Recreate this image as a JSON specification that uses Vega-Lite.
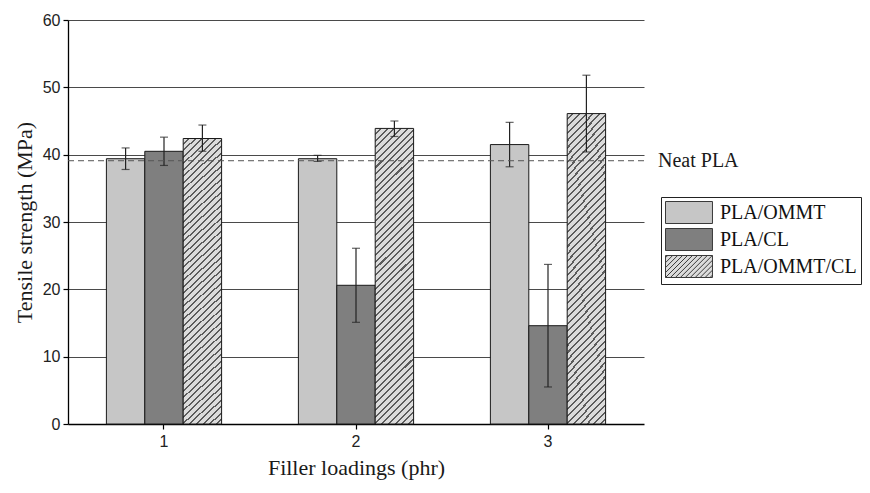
{
  "$schema": "https://vega.github.io/schema/vega-lite/v6.json",
  "width": 576,
  "height": 404,
  "autosize": {"type": "none"},
  "padding": {"left": 68, "top": 20, "right": 226, "bottom": 69},
  "background": "white",
  "config": {
    "view": {"stroke": null},
    "axis": {"labelFont": "Liberation Sans", "labelFontSize": 16, "labelColor": "#222", "titleFont": "Liberation Serif", "titleFontSize": 22, "titleFontWeight": "normal", "titleColor": "#1a1a1a", "domainColor": "#000", "domainWidth": 1.3, "tickColor": "#000", "tickWidth": 1.2}
  },
  "data": {
    "values": [
      {"loading": 1, "series": "PLA/OMMT", "value": 39.4, "lo": 37.8, "hi": 41.0},
      {"loading": 1, "series": "PLA/CL", "value": 40.5, "lo": 38.4, "hi": 42.6},
      {"loading": 1, "series": "PLA/OMMT/CL", "value": 42.4, "lo": 40.5, "hi": 44.4},
      {"loading": 2, "series": "PLA/OMMT", "value": 39.4, "lo": 39.0, "hi": 39.9},
      {"loading": 2, "series": "PLA/CL", "value": 20.6, "lo": 15.1, "hi": 26.1},
      {"loading": 2, "series": "PLA/OMMT/CL", "value": 43.9, "lo": 42.7, "hi": 45.0},
      {"loading": 3, "series": "PLA/OMMT", "value": 41.5, "lo": 38.2, "hi": 44.8},
      {"loading": 3, "series": "PLA/CL", "value": 14.6, "lo": 5.5, "hi": 23.7},
      {"loading": 3, "series": "PLA/OMMT/CL", "value": 46.1, "lo": 40.4, "hi": 51.8}
    ]
  },
  "encoding": {
    "x": {"field": "loading", "type": "ordinal", "scale": {"paddingInner": 0.4, "paddingOuter": 0.2},
      "axis": {"title": "Filler loadings (phr)", "labelAngle": 0, "tickSize": 5, "labelPadding": 4, "titlePadding": 8}},
    "xOffset": {"field": "series", "type": "nominal", "scale": {"domain": ["PLA/OMMT", "PLA/CL", "PLA/OMMT/CL"], "paddingInner": 0, "paddingOuter": 0}}
  },
  "layer": [
    {
      "mark": {"type": "point", "filled": true, "size": 0, "stroke": "#3a3a3a", "strokeWidth": 1},
      "encoding": {
        "y": {"field": "value", "type": "quantitative", "scale": {"domain": [0, 60], "nice": false}},
        "fill": {"field": "series", "type": "nominal",
          "scale": {"domain": ["PLA/OMMT", "PLA/CL", "PLA/OMMT/CL"], "range": ["#c6c6c6", "#7f7f7f", "#dcdcdc"]},
          "legend": {"title": null, "orient": "none", "legendX": 593, "legendY": 177, "strokeColor": "#222", "padding": 4, "rowPadding": 0,
            "labelFont": "Liberation Serif", "labelFontSize": 20, "labelColor": "#111", "labelOffset": 32,
            "symbolSize": 484, "symbolStrokeWidth": 1, "symbolOpacity": 1}},
        "shape": {"field": "series", "type": "nominal",
          "scale": {"domain": ["PLA/OMMT", "PLA/CL", "PLA/OMMT/CL"], "range": [
            "M-1,-1H3.27V1H-1Z",
            "M-1,-1H3.27V1H-1Z",
            "M-1,-1H3.27V1H-1Z M-1,-0.8L-0.8,-1 M-1,-0.35L-0.35,-1 M-1,0.1L0.1,-1 M-1,0.55L0.55,-1 M-1,1L1,-1 M-0.55,1L1.45,-1 M-0.1,1L1.9,-1 M0.35,1L2.35,-1 M0.8,1L2.8,-1 M1.25,1L3.25,-1 M1.7,1L3.27,-0.57 M2.15,1L3.27,-0.12 M2.6,1L3.27,0.33 M3.05,1L3.27,0.78"
          ]},
          "legend": {"title": null, "orient": "none", "legendX": 593, "legendY": 177, "strokeColor": "#222", "padding": 4, "rowPadding": 0,
            "labelFont": "Liberation Serif", "labelFontSize": 20, "labelColor": "#111", "labelOffset": 32,
            "symbolSize": 484, "symbolStrokeWidth": 1, "symbolOpacity": 1}}
      }
    },
    {
      "mark": {"type": "bar", "stroke": "#1a1a1a", "strokeWidth": 1},
      "encoding": {
        "y": {"field": "value", "type": "quantitative", "scale": {"domain": [0, 60], "nice": false},
          "axis": {"title": "Tensile strength (MPa)", "values": [0, 5, 10, 15, 20, 25, 30, 35, 40, 45, 50, 55, 60],
            "labelExpr": "datum.value % 10 === 0 ? datum.label : ''",
            "tickSize": {"condition": {"test": "datum.value % 10 !== 0", "value": 3}, "value": 5},
            "grid": true, "gridColor": "#4a4a4a", "gridWidth": 1,
            "gridOpacity": {"condition": {"test": "datum.value % 10 !== 0 || datum.value === 0", "value": 0}, "value": 1},
            "labelPadding": 3, "titlePadding": 6}},
        "color": {
          "condition": {"test": "datum.series === 'PLA/OMMT/CL'", "value": {"gradient": "linear", "x1": 0, "y1": 0, "x2": 0.145, "y2": 1.12, "stops": [
{"offset":0,"color":"#dcdcdc"},{"offset":0.014,"color":"#dcdcdc"},{"offset":0.014,"color":"#5c5c5c"},{"offset":0.02,"color":"#5c5c5c"},
{"offset":0.02,"color":"#dcdcdc"},{"offset":0.034,"color":"#dcdcdc"},{"offset":0.034,"color":"#5c5c5c"},{"offset":0.04,"color":"#5c5c5c"},
{"offset":0.04,"color":"#dcdcdc"},{"offset":0.054,"color":"#dcdcdc"},{"offset":0.054,"color":"#5c5c5c"},{"offset":0.06,"color":"#5c5c5c"},
{"offset":0.06,"color":"#dcdcdc"},{"offset":0.074,"color":"#dcdcdc"},{"offset":0.074,"color":"#5c5c5c"},{"offset":0.08,"color":"#5c5c5c"},
{"offset":0.08,"color":"#dcdcdc"},{"offset":0.094,"color":"#dcdcdc"},{"offset":0.094,"color":"#5c5c5c"},{"offset":0.1,"color":"#5c5c5c"},
{"offset":0.1,"color":"#dcdcdc"},{"offset":0.114,"color":"#dcdcdc"},{"offset":0.114,"color":"#5c5c5c"},{"offset":0.12,"color":"#5c5c5c"},
{"offset":0.12,"color":"#dcdcdc"},{"offset":0.134,"color":"#dcdcdc"},{"offset":0.134,"color":"#5c5c5c"},{"offset":0.14,"color":"#5c5c5c"},
{"offset":0.14,"color":"#dcdcdc"},{"offset":0.154,"color":"#dcdcdc"},{"offset":0.154,"color":"#5c5c5c"},{"offset":0.16,"color":"#5c5c5c"},
{"offset":0.16,"color":"#dcdcdc"},{"offset":0.174,"color":"#dcdcdc"},{"offset":0.174,"color":"#5c5c5c"},{"offset":0.18,"color":"#5c5c5c"},
{"offset":0.18,"color":"#dcdcdc"},{"offset":0.194,"color":"#dcdcdc"},{"offset":0.194,"color":"#5c5c5c"},{"offset":0.2,"color":"#5c5c5c"},
{"offset":0.2,"color":"#dcdcdc"},{"offset":0.214,"color":"#dcdcdc"},{"offset":0.214,"color":"#5c5c5c"},{"offset":0.22,"color":"#5c5c5c"},
{"offset":0.22,"color":"#dcdcdc"},{"offset":0.234,"color":"#dcdcdc"},{"offset":0.234,"color":"#5c5c5c"},{"offset":0.24,"color":"#5c5c5c"},
{"offset":0.24,"color":"#dcdcdc"},{"offset":0.254,"color":"#dcdcdc"},{"offset":0.254,"color":"#5c5c5c"},{"offset":0.26,"color":"#5c5c5c"},
{"offset":0.26,"color":"#dcdcdc"},{"offset":0.274,"color":"#dcdcdc"},{"offset":0.274,"color":"#5c5c5c"},{"offset":0.28,"color":"#5c5c5c"},
{"offset":0.28,"color":"#dcdcdc"},{"offset":0.294,"color":"#dcdcdc"},{"offset":0.294,"color":"#5c5c5c"},{"offset":0.3,"color":"#5c5c5c"},
{"offset":0.3,"color":"#dcdcdc"},{"offset":0.314,"color":"#dcdcdc"},{"offset":0.314,"color":"#5c5c5c"},{"offset":0.32,"color":"#5c5c5c"},
{"offset":0.32,"color":"#dcdcdc"},{"offset":0.334,"color":"#dcdcdc"},{"offset":0.334,"color":"#5c5c5c"},{"offset":0.34,"color":"#5c5c5c"},
{"offset":0.34,"color":"#dcdcdc"},{"offset":0.354,"color":"#dcdcdc"},{"offset":0.354,"color":"#5c5c5c"},{"offset":0.36,"color":"#5c5c5c"},
{"offset":0.36,"color":"#dcdcdc"},{"offset":0.374,"color":"#dcdcdc"},{"offset":0.374,"color":"#5c5c5c"},{"offset":0.38,"color":"#5c5c5c"},
{"offset":0.38,"color":"#dcdcdc"},{"offset":0.394,"color":"#dcdcdc"},{"offset":0.394,"color":"#5c5c5c"},{"offset":0.4,"color":"#5c5c5c"},
{"offset":0.4,"color":"#dcdcdc"},{"offset":0.414,"color":"#dcdcdc"},{"offset":0.414,"color":"#5c5c5c"},{"offset":0.42,"color":"#5c5c5c"},
{"offset":0.42,"color":"#dcdcdc"},{"offset":0.434,"color":"#dcdcdc"},{"offset":0.434,"color":"#5c5c5c"},{"offset":0.44,"color":"#5c5c5c"},
{"offset":0.44,"color":"#dcdcdc"},{"offset":0.454,"color":"#dcdcdc"},{"offset":0.454,"color":"#5c5c5c"},{"offset":0.46,"color":"#5c5c5c"},
{"offset":0.46,"color":"#dcdcdc"},{"offset":0.474,"color":"#dcdcdc"},{"offset":0.474,"color":"#5c5c5c"},{"offset":0.48,"color":"#5c5c5c"},
{"offset":0.48,"color":"#dcdcdc"},{"offset":0.494,"color":"#dcdcdc"},{"offset":0.494,"color":"#5c5c5c"},{"offset":0.5,"color":"#5c5c5c"},
{"offset":0.5,"color":"#dcdcdc"},{"offset":0.514,"color":"#dcdcdc"},{"offset":0.514,"color":"#5c5c5c"},{"offset":0.52,"color":"#5c5c5c"},
{"offset":0.52,"color":"#dcdcdc"},{"offset":0.534,"color":"#dcdcdc"},{"offset":0.534,"color":"#5c5c5c"},{"offset":0.54,"color":"#5c5c5c"},
{"offset":0.54,"color":"#dcdcdc"},{"offset":0.554,"color":"#dcdcdc"},{"offset":0.554,"color":"#5c5c5c"},{"offset":0.56,"color":"#5c5c5c"},
{"offset":0.56,"color":"#dcdcdc"},{"offset":0.574,"color":"#dcdcdc"},{"offset":0.574,"color":"#5c5c5c"},{"offset":0.58,"color":"#5c5c5c"},
{"offset":0.58,"color":"#dcdcdc"},{"offset":0.594,"color":"#dcdcdc"},{"offset":0.594,"color":"#5c5c5c"},{"offset":0.6,"color":"#5c5c5c"},
{"offset":0.6,"color":"#dcdcdc"},{"offset":0.614,"color":"#dcdcdc"},{"offset":0.614,"color":"#5c5c5c"},{"offset":0.62,"color":"#5c5c5c"},
{"offset":0.62,"color":"#dcdcdc"},{"offset":0.634,"color":"#dcdcdc"},{"offset":0.634,"color":"#5c5c5c"},{"offset":0.64,"color":"#5c5c5c"},
{"offset":0.64,"color":"#dcdcdc"},{"offset":0.654,"color":"#dcdcdc"},{"offset":0.654,"color":"#5c5c5c"},{"offset":0.66,"color":"#5c5c5c"},
{"offset":0.66,"color":"#dcdcdc"},{"offset":0.674,"color":"#dcdcdc"},{"offset":0.674,"color":"#5c5c5c"},{"offset":0.68,"color":"#5c5c5c"},
{"offset":0.68,"color":"#dcdcdc"},{"offset":0.694,"color":"#dcdcdc"},{"offset":0.694,"color":"#5c5c5c"},{"offset":0.7,"color":"#5c5c5c"},
{"offset":0.7,"color":"#dcdcdc"},{"offset":0.714,"color":"#dcdcdc"},{"offset":0.714,"color":"#5c5c5c"},{"offset":0.72,"color":"#5c5c5c"},
{"offset":0.72,"color":"#dcdcdc"},{"offset":0.734,"color":"#dcdcdc"},{"offset":0.734,"color":"#5c5c5c"},{"offset":0.74,"color":"#5c5c5c"},
{"offset":0.74,"color":"#dcdcdc"},{"offset":0.754,"color":"#dcdcdc"},{"offset":0.754,"color":"#5c5c5c"},{"offset":0.76,"color":"#5c5c5c"},
{"offset":0.76,"color":"#dcdcdc"},{"offset":0.774,"color":"#dcdcdc"},{"offset":0.774,"color":"#5c5c5c"},{"offset":0.78,"color":"#5c5c5c"},
{"offset":0.78,"color":"#dcdcdc"},{"offset":0.794,"color":"#dcdcdc"},{"offset":0.794,"color":"#5c5c5c"},{"offset":0.8,"color":"#5c5c5c"},
{"offset":0.8,"color":"#dcdcdc"},{"offset":0.814,"color":"#dcdcdc"},{"offset":0.814,"color":"#5c5c5c"},{"offset":0.82,"color":"#5c5c5c"},
{"offset":0.82,"color":"#dcdcdc"},{"offset":0.834,"color":"#dcdcdc"},{"offset":0.834,"color":"#5c5c5c"},{"offset":0.84,"color":"#5c5c5c"},
{"offset":0.84,"color":"#dcdcdc"},{"offset":0.854,"color":"#dcdcdc"},{"offset":0.854,"color":"#5c5c5c"},{"offset":0.86,"color":"#5c5c5c"},
{"offset":0.86,"color":"#dcdcdc"},{"offset":0.874,"color":"#dcdcdc"},{"offset":0.874,"color":"#5c5c5c"},{"offset":0.88,"color":"#5c5c5c"},
{"offset":0.88,"color":"#dcdcdc"},{"offset":0.894,"color":"#dcdcdc"},{"offset":0.894,"color":"#5c5c5c"},{"offset":0.9,"color":"#5c5c5c"},
{"offset":0.9,"color":"#dcdcdc"},{"offset":0.914,"color":"#dcdcdc"},{"offset":0.914,"color":"#5c5c5c"},{"offset":0.92,"color":"#5c5c5c"},
{"offset":0.92,"color":"#dcdcdc"},{"offset":0.934,"color":"#dcdcdc"},{"offset":0.934,"color":"#5c5c5c"},{"offset":0.94,"color":"#5c5c5c"},
{"offset":0.94,"color":"#dcdcdc"},{"offset":0.954,"color":"#dcdcdc"},{"offset":0.954,"color":"#5c5c5c"},{"offset":0.96,"color":"#5c5c5c"},
{"offset":0.96,"color":"#dcdcdc"},{"offset":0.974,"color":"#dcdcdc"},{"offset":0.974,"color":"#5c5c5c"},{"offset":0.98,"color":"#5c5c5c"},
{"offset":0.98,"color":"#dcdcdc"},{"offset":0.994,"color":"#dcdcdc"},{"offset":0.994,"color":"#5c5c5c"},{"offset":1,"color":"#5c5c5c"}
          ]}},
          "field": "series", "type": "nominal",
          "scale": {"domain": ["PLA/OMMT", "PLA/CL", "PLA/OMMT/CL"], "range": ["#c6c6c6", "#7f7f7f", "#b4b4b4"]},
          "legend": null
        }
      }
    },
    {
      "mark": {"type": "rule", "color": "#222", "strokeWidth": 1.2},
      "encoding": {
        "y": {"field": "lo", "type": "quantitative"},
        "y2": {"field": "hi"}
      }
    },
    {
      "mark": {"type": "tick", "color": "#222", "size": 8, "thickness": 1.2},
      "encoding": {"y": {"field": "hi", "type": "quantitative"}}
    },
    {
      "mark": {"type": "tick", "color": "#222", "size": 8, "thickness": 1.2},
      "encoding": {"y": {"field": "lo", "type": "quantitative"}}
    },
    {
      "data": {"values": [{"label": "Neat PLA", "value": 39.1}]},
      "mark": {"type": "rule", "color": "#555", "strokeWidth": 1, "strokeDash": [6, 4]},
      "encoding": {"y": {"field": "value", "type": "quantitative"}, "x": null, "xOffset": null}
    },
    {
      "data": {"values": [{"label": "Neat PLA", "value": 39.1}]},
      "mark": {"type": "text", "align": "left", "baseline": "middle", "dx": 14, "font": "Liberation Serif", "fontSize": 20, "color": "#1a1a1a"},
      "encoding": {"y": {"field": "value", "type": "quantitative"}, "x": {"value": "width"}, "xOffset": null, "text": {"field": "label"}}
    }
  ]
}
